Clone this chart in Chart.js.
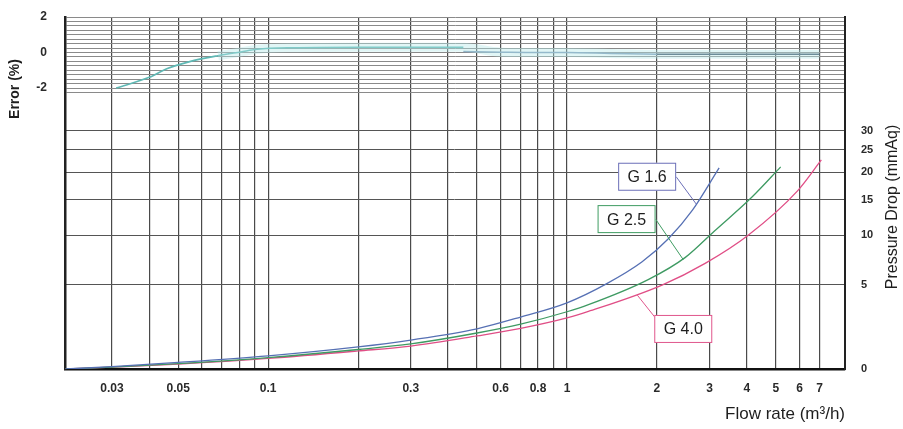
<!DOCTYPE html>
<html>
<head>
<meta charset="utf-8">
<script src="https://cdn.jsdelivr.net/npm/chart.js@4.4.1/dist/chart.umd.min.js"></script>
<style>
  html, body { margin: 0; padding: 0; background: #fff; }
  #wrap { width: 903px; height: 429px; position: relative; }
</style>
</head>
<body>
<div id="wrap"><canvas id="chart"></canvas></div>
<script>
// Flow rate grid and labels (m3/h, log axis)
const flowGrid = [0.03, 0.04, 0.05, 0.06, 0.07, 0.08, 0.09,
                  0.1, 0.2, 0.3, 0.4, 0.5, 0.6, 0.7, 0.8, 0.9,
                  1, 2, 3, 4, 5, 6, 7];
const flowLabels = [0.03, 0.05, 0.1, 0.3, 0.6, 0.8, 1, 2, 3, 4, 5, 6, 7];

// Error (%) grid and labels
const errGrid = [2, 1.75, 1.5, 1.25, 1, 0.75, 0.5, 0.25, 0, -0.25, -0.5, -0.75,
                 -1, -1.25, -1.5, -1.75, -2, -2.25];
const errLabels = [2, 0, -2];

// Pressure drop ticks (mmAq)
const dropTicks = [0, 5, 10, 15, 20, 25, 30];

// Error curve, three pieces
const errFlowA = [0.031, 0.04, 0.046, 0.055, 0.068, 0.081, 0.092, 0.12, 0.2, 0.3, 0.45];
const errValA  = [-2.0, -1.4, -0.9, -0.5, -0.18, 0.03, 0.18, 0.27, 0.3, 0.3, 0.29];
const errFlowB = [0.45, 0.6, 0.8, 1.0, 1.4, 2.0];
const errValB  = [0.05, 0.02, 0.0, 0.0, -0.05, -0.1];
const errFlowC = [2, 3, 4, 5, 6, 7];
const errValC  = [-0.1, -0.1, -0.1, -0.1, -0.1, -0.1];

// Pressure drop curves (mmAq)
const g16Flow = [0.021, 0.03, 0.05, 0.1, 0.2, 0.3, 0.5, 0.7, 1.0, 1.35, 1.78, 2.18, 2.63, 3.23];
const g16Drop = [0, 0.10, 0.28, 0.58, 1.01, 1.36, 1.98, 2.69, 3.64, 5.07, 7.06, 9.55, 13.4, 20.9];
const g25Flow = [0.021, 0.03, 0.05, 0.1, 0.2, 0.3, 0.5, 0.7, 1.0, 1.18, 1.87, 2.49, 3.11, 4.17, 5.19];
const g25Drop = [0, 0.08, 0.23, 0.50, 0.88, 1.16, 1.74, 2.25, 3.03, 3.51, 5.45, 7.53, 10.5, 15.5, 21.1];
const g40Flow = [0.021, 0.03, 0.05, 0.1, 0.2, 0.3, 0.5, 0.7, 1.0, 1.18, 2.08, 2.9, 4.04, 5.91, 7.1];
const g40Drop = [0, 0.08, 0.21, 0.46, 0.81, 1.05, 1.58, 2.0, 2.63, 3.05, 4.99, 6.93, 10.0, 16.5, 22.6];

// the pressure axis is logarithmic in (drop + offset)
const DROP_OFFSET = 5.2;

const FONT = "'Liberation Sans Narrow', 'Arial Narrow', 'Liberation Sans', sans-serif";

const pairs = (xs, ys, off = 0) => xs.map((x, i) => ({ x: x, y: ys[i] + off }));

// curve tags: box centre and leader end, in data units
const tags = [
  { text: 'G 1.6', color: '#6b6fb8', x: 1.855, y: 19.1, px: 2.71, py: 14.3, side: 'right' },
  { text: 'G 2.5', color: '#3f9c62', x: 1.583, y: 12.1, px: 2.45, py: 7.3, side: 'right' },
  { text: 'G 4.0', color: '#e0568c', x: 2.45, y: 1.97, px: 1.72, py: 4.2, side: 'left' }
];

const zeroPadding = (s) => {
  s.paddingTop = 0; s.paddingBottom = 0; s.paddingLeft = 0; s.paddingRight = 0;
};

const tagPlugin = {
  id: 'tags',
  afterDatasetsDraw(chart) {
    const ctx = chart.ctx;
    const xs = chart.scales.x, ys = chart.scales.yDrop;
    ctx.save();
    tags.forEach(t => {
      const cx = xs.getPixelForValue(t.x);
      const cy = ys.getPixelForValue(t.y + DROP_OFFSET);
      const w = 58, h = 28;
      const ex = t.side === 'right' ? cx + w / 2 : cx - w / 2 + 2;
      const ey = t.side === 'right' ? cy : cy - h / 2 + 4;
      ctx.strokeStyle = t.color;
      ctx.lineWidth = 1;
      ctx.beginPath();
      ctx.moveTo(ex, ey);
      ctx.lineTo(xs.getPixelForValue(t.px), ys.getPixelForValue(t.py + DROP_OFFSET));
      ctx.stroke();
      ctx.fillStyle = '#fff';
      ctx.fillRect(cx - w / 2, cy - h / 2, w, h);
      ctx.strokeRect(cx - w / 2 + 0.5, cy - h / 2 + 0.5, w - 1, h - 1);
      ctx.fillStyle = '#1e1e1e';
      ctx.font = "16px " + FONT;
      ctx.textAlign = 'center';
      ctx.textBaseline = 'middle';
      ctx.fillText(t.text, cx, cy + 1);
    });
    ctx.restore();
  }
};

// rotated axis titles (both read bottom to top)
const titlePlugin = {
  id: 'sideTitles',
  afterDraw(chart) {
    const ctx = chart.ctx;
    const a = chart.chartArea;
    ctx.save();
    ctx.fillStyle = '#1e1e1e';
    ctx.textAlign = 'center';
    ctx.textBaseline = 'middle';

    ctx.save();
    ctx.translate(a.left - 50, a.top + 72);
    ctx.rotate(-Math.PI / 2);
    ctx.font = "bold 14px " + FONT;
    ctx.fillText('Error (%)', 0, 0);
    ctx.restore();

    ctx.save();
    ctx.translate(a.right + 48, a.top + 190);
    ctx.rotate(-Math.PI / 2);
    ctx.font = "16px " + FONT;
    ctx.fillText('Pressure Drop (mmAq)', 0, 0);
    ctx.restore();

    ctx.restore();
  }
};

const tickFont = { family: FONT, size: 12, weight: 'bold' };

const curve = (label, xs, ys, color) => ({
  label: label,
  data: pairs(xs, ys, DROP_OFFSET),
  yAxisID: 'yDrop',
  borderColor: color,
  borderWidth: 1.3,
  pointRadius: 0,
  cubicInterpolationMode: 'monotone'
});

new Chart(document.getElementById('chart'), {
  type: 'line',
  data: {
    datasets: [
      {
        label: 'err halo',
        data: pairs(errFlowA.slice(4).concat(errFlowB.slice(1), errFlowC.slice(1)),
                    errValA.slice(4).concat(errValB.slice(1), errValC.slice(1))),
        yAxisID: 'yErr',
        borderColor: 'rgba(180, 232, 232, 0.4)',
        borderWidth: 9,
        pointRadius: 0,
        cubicInterpolationMode: 'monotone'
      },
      {
        label: 'err A',
        data: pairs(errFlowA, errValA),
        yAxisID: 'yErr',
        borderColor: '#5fb8b4',
        borderWidth: 1.6,
        pointRadius: 0,
        cubicInterpolationMode: 'monotone'
      },
      {
        label: 'err B',
        data: pairs(errFlowB, errValB),
        yAxisID: 'yErr',
        borderColor: '#7f9ab8',
        borderWidth: 1.5,
        pointRadius: 0,
        cubicInterpolationMode: 'monotone'
      },
      {
        label: 'err C',
        data: pairs(errFlowC, errValC),
        yAxisID: 'yErr',
        borderColor: '#3d4f63',
        borderWidth: 1.6,
        pointRadius: 0
      },
      curve('G 1.6', g16Flow, g16Drop, '#5670b4'),
      curve('G 2.5', g25Flow, g25Drop, '#3e9a62'),
      curve('G 4.0', g40Flow, g40Drop, '#e04e86')
    ]
  },
  options: {
    responsive: true,
    maintainAspectRatio: false,
    animation: false,
    layout: { padding: { top: 17, left: 0, right: 0, bottom: 0 } },
    plugins: {
      legend: { display: false },
      tooltip: { enabled: false }
    },
    scales: {
      x: {
        type: 'logarithmic',
        min: 0.0209,
        max: 8.52,
        afterBuildTicks: (s) => { s.ticks = flowGrid.map(v => ({ value: v })); },
        afterFit: (s) => { s.height = 60; zeroPadding(s); },
        ticks: {
          autoSkip: false,
          maxRotation: 0,
          padding: 12,
          color: '#2a2a2a',
          font: tickFont,
          callback: (v) => flowLabels.includes(v) ? String(v) : ''
        },
        grid: { color: '#4a4a4a', lineWidth: 1.2, drawTicks: false },
        border: { color: '#111', width: 2.5 },
        title: {
          display: true,
          text: 'Flow rate (m³/h)',
          align: 'end',
          color: '#1e1e1e',
          font: { family: FONT, size: 17 },
          padding: { top: 0 }
        }
      },
      yErr: {
        type: 'linear',
        position: 'left',
        min: -17.83,
        max: 2,
        afterBuildTicks: (s) => { s.ticks = errGrid.map(v => ({ value: v })); },
        afterFit: (s) => { s.width = 65; zeroPadding(s); },
        ticks: {
          autoSkip: false,
          padding: 18,
          color: '#2a2a2a',
          font: tickFont,
          callback: (v) => errLabels.includes(v) ? String(v) : ''
        },
        grid: { color: '#8a8a8a', lineWidth: 1, drawTicks: false },
        border: { color: '#222', width: 2.5 }
      },
      yDrop: {
        type: 'logarithmic',
        position: 'right',
        min: DROP_OFFSET,
        max: 87.5,
        afterBuildTicks: (s) => { s.ticks = dropTicks.map(v => ({ value: v + DROP_OFFSET })); },
        afterFit: (s) => { s.width = 58; zeroPadding(s); },
        ticks: {
          autoSkip: false,
          padding: 16,
          color: '#2a2a2a',
          font: { family: FONT, size: 11, weight: 'bold' },
          callback: (v) => String(Math.round(v - DROP_OFFSET))
        },
        grid: { color: '#555', lineWidth: 1, drawTicks: false },
        border: { color: '#222', width: 2 }
      }
    }
  },
  plugins: [tagPlugin, titlePlugin]
});
</script>
</body>
</html>
